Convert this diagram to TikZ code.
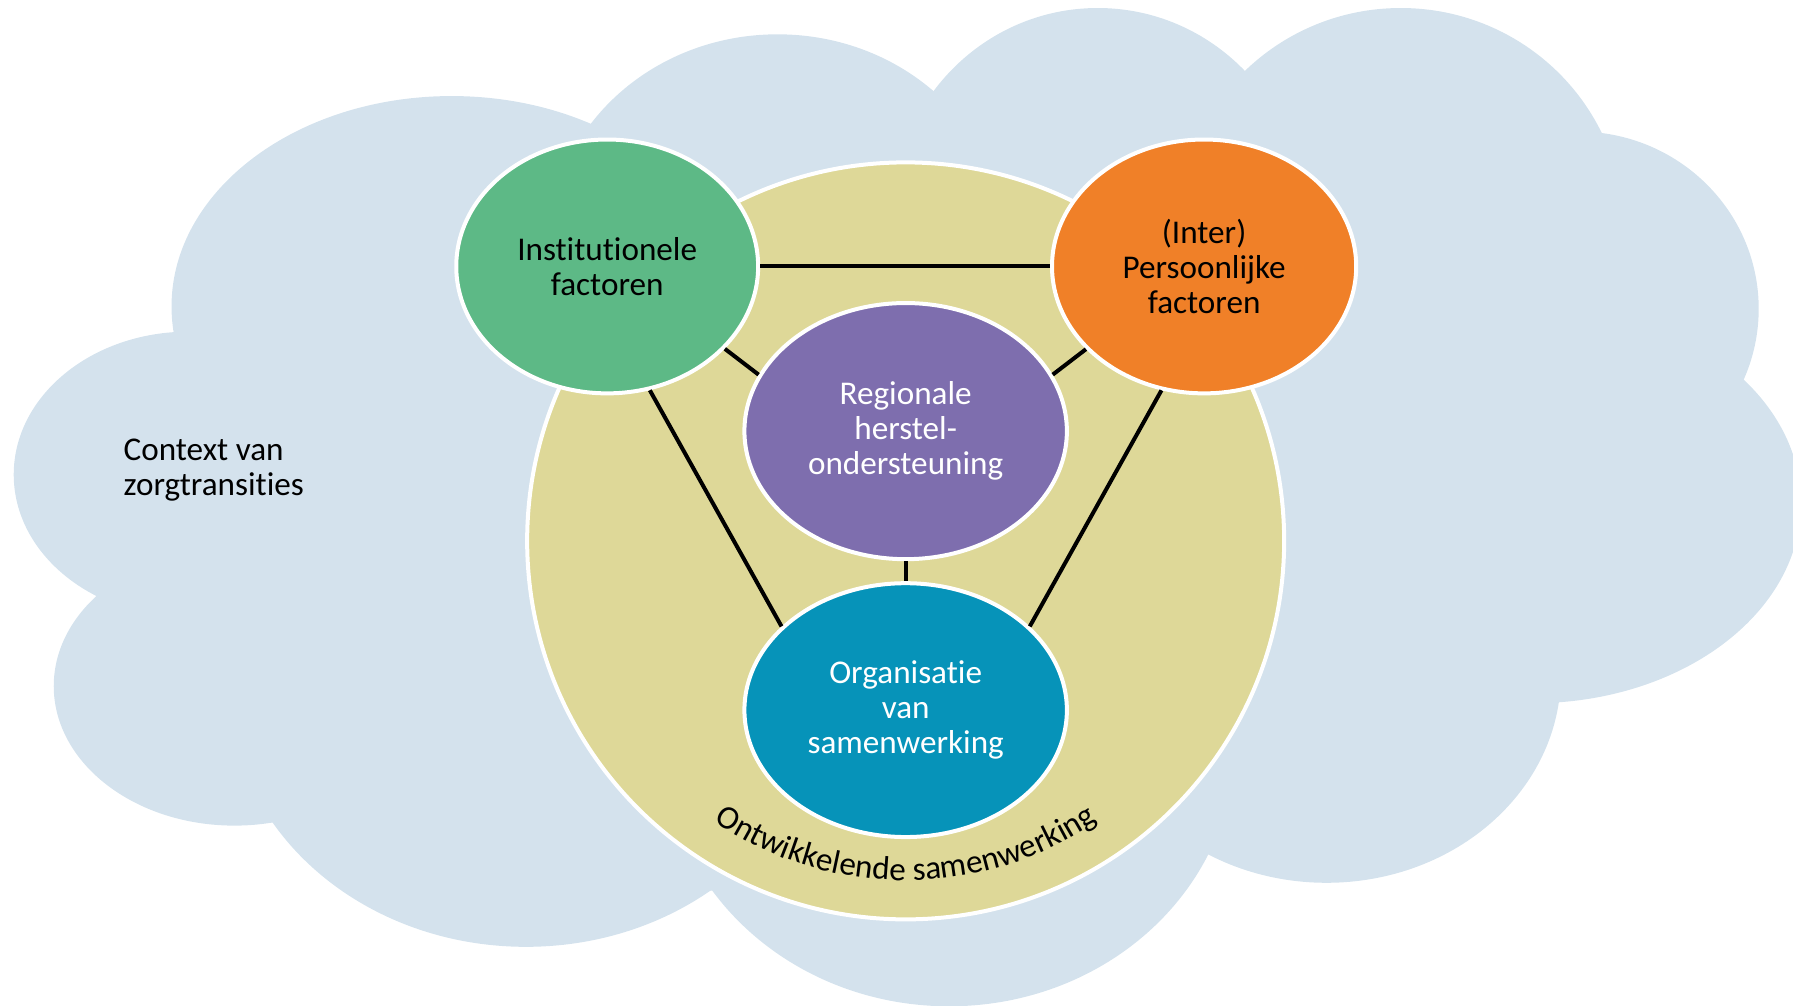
\documentclass[tikz,border=0pt]{standalone}
\usepackage{fontspec}
\setmainfont{Carlito}[Ligatures=NoCommon]
\usetikzlibrary{calc,decorations.text,shapes.geometric}

\definecolor{cloudblue}{HTML}{D4E2ED}
\definecolor{ringkhaki}{HTML}{DED898}
\definecolor{instgreen}{HTML}{5DB986}
\definecolor{persorange}{HTML}{F08028}
\definecolor{regpurple}{HTML}{7E6EAE}
\definecolor{orgteal}{HTML}{0693B9}

\begin{document}
\begin{tikzpicture}[x=1pt,y=-1pt,
  lobe/.style={fill=cloudblue},
  blob/.style={ellipse, draw=white, line width=3.5pt, inner sep=0pt,
    align=center, font=\fontsize{29}{30.5}\selectfont},
  link/.style={line width=3.5pt, draw=black}]

\useasboundingbox (0,0) rectangle (1568,879);
\clip (0,0) rectangle (1568,879);

% cloud: union of lobes around a central polygon
\fill[lobe] (170,305) -- (525,125) -- (823,90) -- (1090,72) -- (1385,135)
  -- (1505,320) -- (1345,600) -- (1035,730) -- (612,780) -- (235,700)
  -- (105,515) -- cycle;
\fill[lobe] (395,268) ellipse [x radius=245, y radius=184];
\fill[lobe] (680,215) ellipse [x radius=200, y radius=185];
\fill[lobe] (960,190) ellipse [x radius=180, y radius=183];
\fill[lobe] (1225,200) ellipse [x radius=195, y radius=193];
\fill[lobe] (1380,270) ellipse [x radius=158, y radius=155];
\fill[lobe] (1340,440) ellipse [x radius=235, y radius=175];
\fill[lobe] (1160,590) ellipse [x radius=205, y radius=182];
\fill[lobe] (830,650) ellipse [x radius=250, y radius=230];
\fill[lobe] (460,600) ellipse [x radius=260, y radius=228];
\fill[lobe] (205,600) ellipse [x radius=158, y radius=122];
\fill[lobe] (165,415) ellipse [x radius=153, y radius=125];

% ring of the developing collaboration
\node (ring) [circle, fill=ringkhaki, draw=white, line width=3.5pt,
  minimum size=662pt, inner sep=0pt] at (792,473) {};

\path[decorate, decoration={text along path, text align=center,
    text={|\fontsize{29}{30}\selectfont|Ontwikkelende samenwerking}}]
  ($(ring.center)+(225:297pt)$) arc[start angle=225, end angle=315, radius=297pt];

% the four factors
\node (inst) [blob, fill=instgreen, minimum width=264pt, minimum height=222pt]
  at (531,233) {Institutionele\\factoren};
\node (pers) [blob, fill=persorange, minimum width=266pt, minimum height=222pt]
  at (1053,233) {(Inter)\\Persoonlijke\\factoren};
\node (reg) [blob, fill=regpurple, text=white, minimum width=282pt, minimum height=224pt]
  at (792,377) {Regionale\\herstel-\\ondersteuning};
\node (org) [blob, fill=orgteal, text=white, minimum width=282pt, minimum height=222pt]
  at (792,621) {Organisatie\\van\\samenwerking};

% connections
\draw[link] (inst.east) -- (pers.west);
\draw[link] (inst.-35) -- (reg.159);
\draw[link] (pers.-145) -- (reg.21);
\draw[link] (reg.south) -- (org.north);
\draw[link] (inst.-71) -- (org.146);
\draw[link] (pers.-109) -- (org.34);

% context label
\node (ctx) [anchor=west, align=left, inner sep=0pt,
  font=\fontsize{29}{30.5}\selectfont] at (108,411) {Context van\\zorgtransities};

\end{tikzpicture}
\end{document}
